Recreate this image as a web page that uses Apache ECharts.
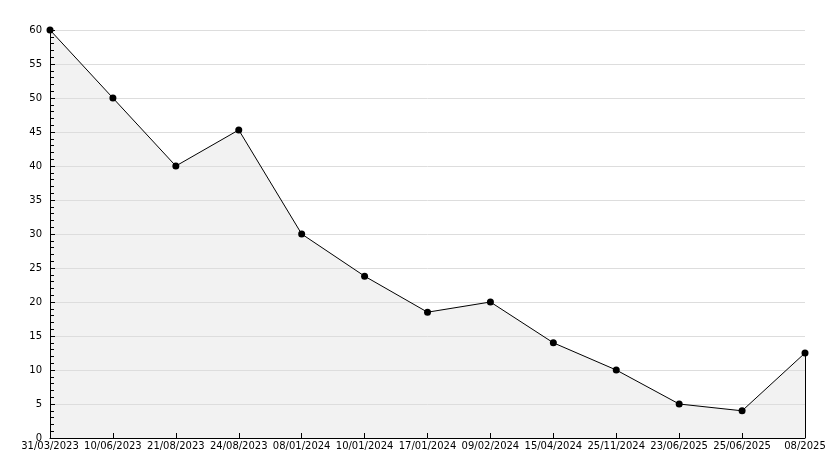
<!DOCTYPE html>
<html><head><meta charset="utf-8">
<script src="https://cdn.jsdelivr.net/npm/echarts@6/dist/echarts.min.js"></script>
<style>html,body{margin:0;padding:0;background:#fff}#c{width:834px;height:468px}</style>
</head><body><div id="c"></div>
<script>
const categories = ["31/03/2023","10/06/2023","21/08/2023","24/08/2023","08/01/2024","10/01/2024","17/01/2024","09/02/2024","15/04/2024","25/11/2024","23/06/2025","25/06/2025","08/2025"];
const values = [60, 50, 40, 45.3, 30, 23.8, 18.5, 20, 14, 10, 5, 4, 12.5];
const yTicks = {min: 0, max: 60, interval: 5};

const font = {fontFamily: "DejaVu Sans", fontSize: 10, color: "#000"};
const chart = echarts.init(document.getElementById('c'));
const last = categories.length - 1;
chart.setOption({
  animation: false,
  grid: {left: 50, right: 29, top: 30, bottom: 30, containLabel: false},
  xAxis: {
    type: 'category', data: categories, boundaryGap: false, z: 2,
    axisLine: {lineStyle: {color: '#000', width: 1}},
    axisTick: {inside: true, length: 5, lineStyle: {color: '#000'}},
    axisLabel: Object.assign({margin: 3, interval: 0, showMinLabel: true, showMaxLabel: true}, font),
    splitLine: {show: false}
  },
  yAxis: {
    type: 'value', min: yTicks.min, max: yTicks.max, interval: yTicks.interval, z: 2,
    axisLine: {show: true, lineStyle: {color: '#000', width: 1}},
    axisTick: {show: true, inside: true, length: 5, lineStyle: {color: '#000'}},
    minorTick: {show: true, splitNumber: 5, length: 4, lineStyle: {color: '#000'}},
    axisLabel: Object.assign({margin: 8}, font),
    splitLine: {show: true, lineStyle: {color: '#dddddd', width: 1}}
  },
  series: [{
    type: 'line', data: values, z: 1,
    symbol: 'none',
    lineStyle: {width: 0, opacity: 0},
    areaStyle: {color: '#f2f2f2', opacity: 1}
  }, {
    type: 'line', data: values, z: 3,
    symbol: 'circle',
    symbolSize: 7,
    itemStyle: {color: '#000'},
    lineStyle: {color: '#000', width: 1},
    markLine: {
      silent: true, symbol: 'none', label: {show: false},
      lineStyle: {color: '#000', width: 1, type: 'solid'},
      data: [[{coord: [categories[last], 0]}, {coord: [categories[last], values[last]]}]]
    }
  }]
});
</script></body></html>
